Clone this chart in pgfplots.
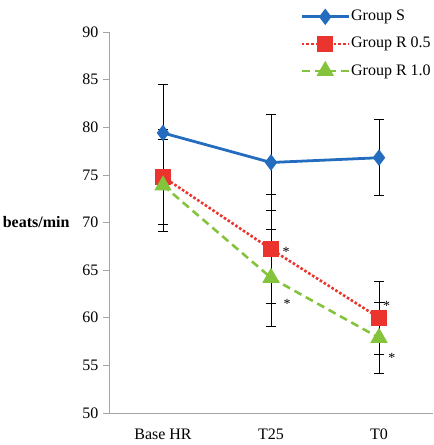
\documentclass[border=0pt]{standalone}
\usepackage{fontspec}
\setmainfont{Liberation Serif}
\usepackage{pgfplots}
\pgfplotsset{compat=1.18}

\definecolor{sblue}{RGB}{36,108,190}
\definecolor{rred}{RGB}{236,52,46}
\definecolor{rgreen}{RGB}{132,196,60}
\definecolor{axgray}{RGB}{165,165,165}

\begin{document}
\fontsize{16bp}{19bp}\selectfont
\begin{tikzpicture}
\begin{axis}[
    scale only axis,
    width=324bp, height=381bp,
    xmin=-0.5, xmax=2.5,
    ymin=50, ymax=90,
    ytick={50,55,...,90},
    xtick={0,1,2},
    xticklabels={Base HR,T25,T0},
    xtick style={draw=none},
    extra x ticks={-0.5,0.5,1.5,2.5},
    extra x tick labels={},
    extra x tick style={tick style={draw=axgray, line width=0.6pt}},
    axis x line=bottom, axis y line=left,
    axis line style={-, draw=axgray, line width=0.8pt},
    ytick style={draw=axgray, line width=0.6pt},
    tick align=outside,
    major tick length=6bp,
    ticklabel style={font=\fontsize{16bp}{19bp}\selectfont, text=black},
    yticklabel style={xshift=1bp},
    xticklabel style={yshift=-4bp},
    /pgf/number format/assume math mode=true,
    ylabel={\textbf{beats/min}},
    ylabel style={rotate=-90, anchor=east, at={(rel axis cs:0,0.5)}, xshift=-34bp, font=\fontsize{16bp}{19bp}\selectfont},
    legend style={at={(rel axis cs:0.59,1.06)}, anchor=north west, draw=none, fill=none,
        inner sep=0pt, row sep=12bp, font=\fontsize{16bp}{19bp}\selectfont,
        nodes={inner sep=1bp}},
    legend cell align=left,
    legend image code/.code={
        \draw[mark repeat=2, mark phase=2, #1] plot coordinates {(0bp,0bp) (23.5bp,0bp) (47bp,0bp)};
    },
    clip=false,
    error bars/y dir=both,
    error bars/y explicit,
    error bars/error bar style={black, line width=0.8pt, solid},
    error bars/error mark options={rotate=90, mark size=5bp, black, line width=0.8pt, solid},
]
\addplot[sblue, line width=2.8pt, mark=diamond*, mark size=6bp, mark options={solid, fill=sblue}]
    coordinates {(0,79.4) +- (0,5.1) (1,76.3) +- (0,5.0) (2,76.8) +- (0,4.0)};
\addlegendentry{Group S}
\addplot[rred, line width=2.6pt, dotted, mark=square*, mark size=6.5bp, mark options={solid, fill=rred}]
    coordinates {(0,74.8) +- (0,5.0) (1,67.2) +- (0,5.7) (2,60.0) +- (0,3.8)};
\addlegendentry{Group R 0.5}
\addplot[rgreen, line width=2.6pt, dash pattern=on 8bp off 5bp, mark=triangle*, mark size=7.5bp, mark options={solid, fill=rgreen}]
    coordinates {(0,73.9) +- (0,4.8) (1,64.2) +- (0,5.1) (2,57.9) +- (0,3.7)};
\addlegendentry{Group R 1.0}

\node[font=\fontsize{14bp}{16bp}\selectfont] at (axis cs:1.14,66.9) {*};
\node[font=\fontsize{14bp}{16bp}\selectfont] at (axis cs:1.15,61.5) {*};
\node[font=\fontsize{14bp}{16bp}\selectfont] at (axis cs:2.07,61.2) {*};
\node[font=\fontsize{14bp}{16bp}\selectfont] at (axis cs:2.12,55.8) {*};
\end{axis}
\pgfresetboundingbox
\path ([xshift=-109bp,yshift=-32bp]current axis.south west) rectangle ([xshift=1bp,yshift=32bp]current axis.north east);
\end{tikzpicture}
\end{document}
